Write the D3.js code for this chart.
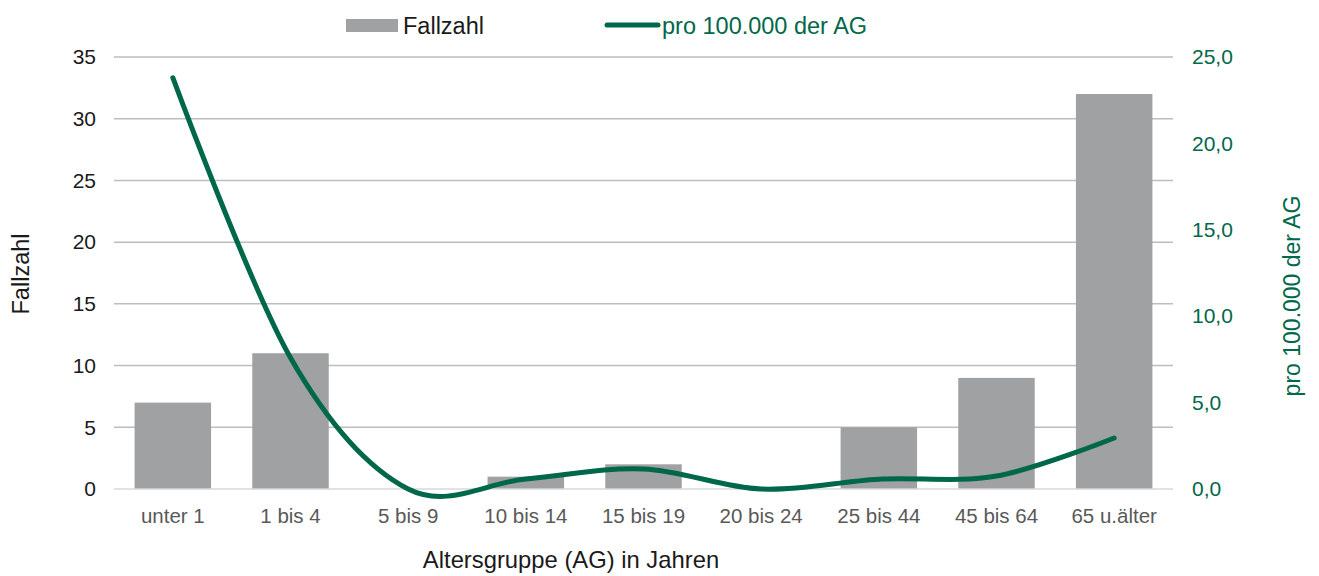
<!DOCTYPE html>
<html><head><meta charset="utf-8">
<script src="https://cdn.jsdelivr.net/npm/d3@7/dist/d3.min.js"></script>
<style>body{margin:0;background:#fff}svg{display:block;font-family:"Liberation Sans",Arial,sans-serif}</style>
</head><body><svg id="c" width="1319" height="576"></svg>
<script>
const categories = ["unter 1","1 bis 4","5 bis 9","10 bis 14","15 bis 19","20 bis 24","25 bis 44","45 bis 64","65 u.älter"];
const fallzahl = [7,11,0,1,2,0,5,9,32];
const rate = [23.8,7.6,0,0.58,1.16,0,0.57,0.75,2.95];
const leftTicks = [0,5,10,15,20,25,30,35];
const rightTicks = [0,5,10,15,20,25];

const svg = d3.select("#c");
const L = 114, R = 1173, T = 57, B = 489;
const green = "#00684a", gray = "#a0a1a3";
const FF = "Liberation Sans, Arial, sans-serif";

const x = d3.scaleBand().domain(categories).range([L,R]).paddingInner(0.35).paddingOuter(0.175);
const y = d3.scaleLinear().domain([0,35]).range([B,T]);
const y2 = d3.scaleLinear().domain([0,25]).range([B,T]);

// gridlines
svg.append("g").selectAll("line").data(leftTicks.filter(d=>d>0)).join("line")
  .attr("x1",L).attr("x2",R).attr("y1",d=>y(d)).attr("y2",d=>y(d))
  .attr("stroke","#bdbdbd").attr("stroke-width",1.5);

// bars
svg.append("g").selectAll("rect").data(categories).join("rect")
  .attr("x",d=>x(d)).attr("width",x.bandwidth())
  .attr("y",(d,i)=>y(fallzahl[i])).attr("height",(d,i)=>B-y(fallzahl[i]))
  .attr("fill",gray);

// baseline
svg.append("line").attr("x1",L).attr("x2",R).attr("y1",B).attr("y2",B)
  .attr("stroke","#d9d9d9").attr("stroke-width",1.5);

// left axis
const ga = svg.append("g").attr("transform",`translate(${L-18},0)`)
  .call(d3.axisLeft(y).tickValues(leftTicks).tickSize(0).tickPadding(0));
ga.select(".domain").remove();
ga.selectAll("text").attr("font-size",21).attr("fill","#1a1a1a").attr("font-family",FF);

// right axis
const gr = svg.append("g").attr("transform",`translate(${R+19},0)`)
  .call(d3.axisRight(y2).tickValues(rightTicks).tickSize(0).tickPadding(0).tickFormat(d=>d3.format(".1f")(d).replace(".",",")));
gr.select(".domain").remove();
gr.selectAll("text").attr("font-size",21).attr("fill",green).attr("font-family",FF);

// bottom axis
const gb = svg.append("g").attr("transform",`translate(0,${B})`)
  .call(d3.axisBottom(x).tickSize(0).tickPadding(0));
gb.select(".domain").remove();
gb.selectAll("text").attr("font-size",20.5).attr("fill","#595959").attr("font-family",FF)
  .attr("dy",null).attr("y",34);

// line
const line = d3.line().x((d,i)=>x(categories[i])+x.bandwidth()/2).y(d=>y2(d)).curve(d3.curveCardinal.tension(0));
svg.append("path").datum(rate).attr("d",line).attr("fill","none")
  .attr("stroke",green).attr("stroke-width",5).attr("stroke-linecap","round");

// axis titles
svg.append("text").attr("transform","translate(29,274) rotate(-90)").attr("text-anchor","middle")
  .attr("font-size",23.5).attr("fill","#1a1a1a").text("Fallzahl");
svg.append("text").attr("transform","translate(1300,296) rotate(-90)").attr("text-anchor","middle")
  .attr("font-size",23).attr("fill",green).text("pro 100.000 der AG");
svg.append("text").attr("x",571).attr("y",568).attr("text-anchor","middle")
  .attr("font-size",23.8).attr("fill","#1a1a1a").text("Altersgruppe (AG) in Jahren");

// legend
svg.append("rect").attr("x",346).attr("y",19).attr("width",52).attr("height",13).attr("fill",gray);
svg.append("text").attr("x",403).attr("y",34).attr("font-size",23.5).attr("fill","#1a1a1a").text("Fallzahl");
svg.append("line").attr("x1",607).attr("x2",658).attr("y1",25).attr("y2",25)
  .attr("stroke",green).attr("stroke-width",5).attr("stroke-linecap","round");
svg.append("text").attr("x",662).attr("y",34).attr("font-size",23.5).attr("fill",green).text("pro 100.000 der AG");
</script></body></html>
